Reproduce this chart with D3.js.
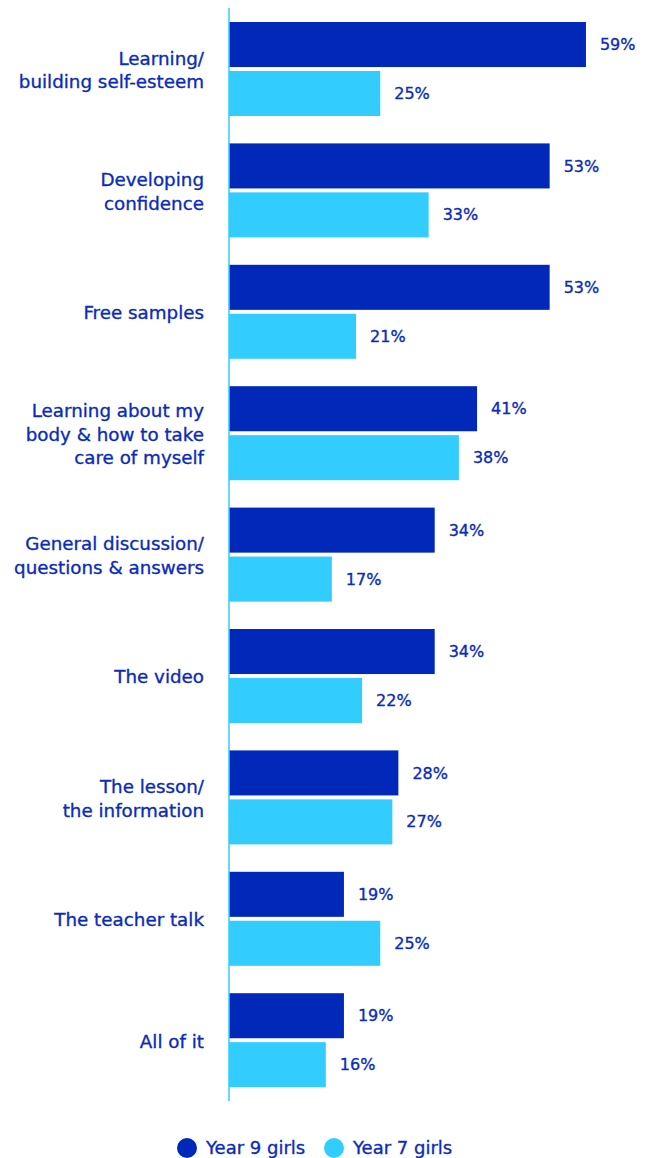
<!DOCTYPE html>
<html>
<head>
<meta charset="utf-8">
<script src="https://cdn.jsdelivr.net/npm/d3@7"></script>
<style>
  html, body { margin: 0; padding: 0; background: #fff; }
  svg text { font-family: "DejaVu Sans", "Noto Sans", sans-serif; }
</style>
</head>
<body>
<svg id="chart" width="654" height="1158"></svg>
<script>
// What girls liked most about the program, by year group (% of respondents)
const categories = [
  ["Learning/", "building self-esteem"],
  ["Developing", "confidence"],
  ["Free samples"],
  ["Learning about my", "body & how to take", "care of myself"],
  ["General discussion/", "questions & answers"],
  ["The video"],
  ["The lesson/", "the information"],
  ["The teacher talk"],
  ["All of it"]
];
const year9 = [59, 53, 53, 41, 34, 34, 28, 19, 19];
const year7 = [25, 33, 21, 38, 17, 22, 27, 25, 16];
const seriesNames = ["Year 9 girls", "Year 7 girls"];
const seriesColors = ["#0029b9", "#33ccff"];

const textColor = "#0b2cb6";
const svg = d3.select("#chart");

const axisX = 229;
const x = d3.scaleLinear().domain([0, 100]).range([axisX, axisX + 605]);

const groupTop = i => 22 + i * 121.4;
const y1 = d3.scaleBand().domain([0, 1]).range([0, 94]).paddingInner(0.08);

const groups = svg.selectAll("g.group")
  .data(categories.map((c, i) => ({ label: c, vals: [year9[i], year7[i]], i })))
  .join("g")
  .attr("class", "group")
  .attr("transform", d => `translate(0,${groupTop(d.i)})`);

groups.selectAll("rect")
  .data(d => d.vals.map((v, s) => ({ v, s })))
  .join("rect")
  .attr("x", x(0))
  .attr("y", d => y1(d.s))
  .attr("width", d => x(d.v) - x(0))
  .attr("height", y1.bandwidth())
  .attr("fill", d => seriesColors[d.s]);

// value labels at the end of each bar
groups.selectAll("text.value")
  .data(d => d.vals.map((v, s) => ({ v, s })))
  .join("text")
  .attr("class", "value")
  .attr("x", d => x(d.v) + 14)
  .attr("y", d => y1(d.s) + y1.bandwidth() / 2)
  .attr("dy", "0.35em")
  .attr("fill", textColor)
  .attr("stroke", textColor)
  .attr("stroke-width", 0.35)
  .attr("font-size", 16)
  .text(d => d.v + "%");

// category labels, right-aligned and centred on the pair of bars
groups.each(function (d) {
  const lineH = 23.5;
  const n = d.label.length;
  const cy = 48;
  const t = d3.select(this).append("text")
    .attr("text-anchor", "end")
    .attr("fill", textColor)
    .attr("stroke", textColor)
    .attr("stroke-width", 0.35)
    .attr("font-size", 18.3);
  d.label.forEach((line, k) => {
    t.append("tspan")
      .attr("x", 204)
      .attr("y", cy + (k - (n - 1) / 2) * lineH)
      .attr("dy", "0.35em")
      .text(line);
  });
});

// baseline axis
svg.append("line")
  .attr("x1", axisX).attr("x2", axisX)
  .attr("y1", 8).attr("y2", 1101)
  .attr("stroke", "#33ccff")
  .attr("stroke-width", 1.5);

// legend
const legend = svg.append("g").attr("transform", "translate(0,1148)");
const legendX = [187, 334];
seriesNames.forEach((name, s) => {
  legend.append("circle")
    .attr("cx", legendX[s]).attr("cy", 0).attr("r", 10)
    .attr("fill", seriesColors[s]);
  legend.append("text")
    .attr("x", legendX[s] + 19).attr("y", 0).attr("dy", "0.35em")
    .attr("fill", textColor)
    .attr("stroke", textColor)
    .attr("stroke-width", 0.35)
    .attr("font-size", 18)
    .text(name);
});
</script>
</body>
</html>
